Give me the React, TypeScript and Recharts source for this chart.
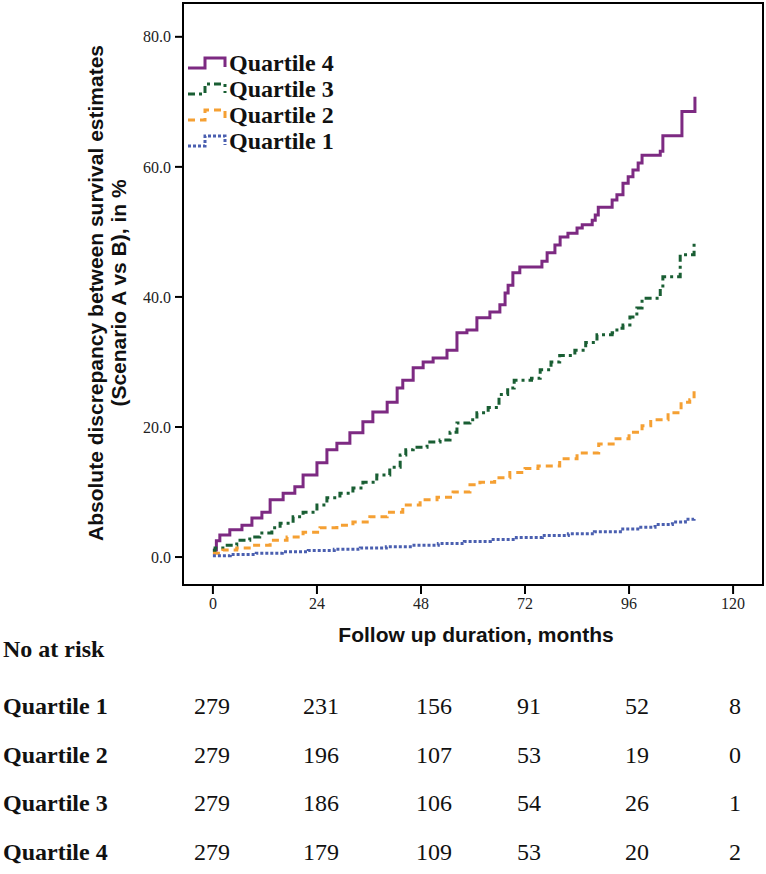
import { LineChart, Line, XAxis, YAxis, ReferenceArea } from "recharts";

// months where each step starts, and the level (%) from that month on
const q4Months = [0, 0.8, 1.6, 3.9, 6.7, 9, 11.3, 13.2, 16.2, 18.9, 20.8, 24, 26.3, 28.6, 31.6, 34.6, 36.9, 40.2, 42.5, 43.8, 46.2, 48.5, 50.8, 54, 56.3, 58.6, 60.9, 63.9, 66.2, 67.4, 68.1, 69.2, 70.8, 75.9, 77.1, 78.9, 80.1, 81.9, 84, 85.2, 87.5, 88.2, 88.9, 92.1, 93.2, 94.6, 95.8, 96.9, 98.1, 99, 103.2, 103.8, 108.2, 111.2];
const q4Values = [1.1, 2.5, 3.4, 4.2, 4.9, 6.0, 6.9, 8.8, 9.8, 10.8, 12.6, 14.5, 16.5, 17.5, 19.1, 20.8, 22.3, 23.8, 26.0, 27.2, 29.1, 30.0, 30.6, 31.8, 34.5, 34.9, 36.8, 37.7, 38.8, 40.6, 41.8, 43.7, 44.6, 45.5, 46.8, 48.0, 49.2, 49.8, 50.6, 51.1, 51.8, 52.6, 53.8, 54.9, 55.7, 57.5, 58.5, 59.5, 60.6, 61.8, 62.4, 64.8, 68.5, 70.8];

const q3Months = [0, 0.5, 2.3, 5.5, 8.5, 10.8, 13.6, 15.5, 18.5, 20.8, 24, 26.3, 29.3, 32.3, 34.6, 37.8, 40.8, 43.2, 44.5, 46.2, 49.4, 52.4, 54.7, 56.3, 59.3, 60.9, 63.5, 66, 68, 69.5, 73.5, 75.5, 78, 80, 83.5, 86, 88.6, 92.1, 93.2, 94.6, 96.2, 97.8, 99, 103.2, 103.8, 107.8, 111];
const q3Values = [1.0, 1.4, 1.8, 2.6, 3.1, 3.7, 4.5, 5.2, 6.2, 6.9, 8.0, 9.1, 9.8, 10.6, 11.5, 12.6, 13.8, 15.7, 16.5, 16.9, 17.7, 18.0, 19.2, 20.6, 21.1, 22.2, 23.0, 25.0, 26.0, 27.2, 27.5, 28.8, 30.0, 31.0, 31.8, 33.0, 34.2, 34.5, 35.2, 35.7, 36.9, 38.3, 39.8, 41.4, 43.1, 46.5, 48.5];

const q2Months = [0, 2.3, 5.5, 9.2, 13.2, 17.1, 20.8, 24.7, 28.6, 32.3, 36.2, 40.2, 43.8, 47.8, 51.7, 55.4, 59.3, 61.6, 65, 68.5, 72, 75, 80, 84, 89, 93, 96, 99, 101, 105, 108, 110, 111];
const q2Values = [0.6, 1.1, 1.4, 1.8, 2.6, 3.1, 3.8, 4.5, 4.9, 5.4, 6.2, 6.9, 8.0, 8.8, 9.2, 10.0, 11.1, 11.5, 12.2, 13.0, 13.6, 14.0, 15.1, 16.0, 17.4, 18.2, 19.2, 20.2, 21.1, 22.2, 23.8, 24.2, 26.0];

const q1Months = [0, 4, 10, 16, 22, 28, 34, 40, 46, 52, 58, 64, 70, 76, 82, 88, 94, 98, 102, 106, 109, 111];
const q1Values = [0.2, 0.4, 0.6, 0.8, 1.0, 1.2, 1.4, 1.6, 1.8, 2.1, 2.4, 2.7, 3.0, 3.3, 3.6, 3.9, 4.3, 4.6, 5.0, 5.4, 5.8, 6.0];

const xTicks = [0, 24, 48, 72, 96, 120];
const yTicks = [0, 20, 40, 60, 80];

const riskRowNames = ["Quartile 1", "Quartile 2", "Quartile 3", "Quartile 4"];
const riskQ1 = [279, 231, 156, 91, 52, 8];
const riskQ2 = [279, 196, 107, 53, 19, 0];
const riskQ3 = [279, 186, 106, 54, 26, 1];
const riskQ4 = [279, 179, 109, 53, 20, 2];

const toSeries = (ms: number[], vs: number[]) => ms.map((m, i) => ({ m, v: vs[i] }));

const SERIF = "'Liberation Serif', 'Times New Roman', serif";
const SANS = "'Liberation Sans', Arial, sans-serif";

const series = [
  { name: "Quartile 4", data: toSeries(q4Months, q4Values), color: "#7d2a82", dash: undefined },
  { name: "Quartile 3", data: toSeries(q3Months, q3Values), color: "#195e33", dash: "7 4 3 4" },
  { name: "Quartile 2", data: toSeries(q2Months, q2Values), color: "#f5a033", dash: "7 5" },
  { name: "Quartile 1", data: toSeries(q1Months, q1Values), color: "#4a5fb0", dash: "3 2" },
];

const colX = [212, 321, 434, 529, 637, 735];
const rowY = [706, 755, 803, 852];

function LegendBox() {
  return (
    <div style={{ position: "absolute", left: 186, top: 50 }}>
      {series.map((s) => (
        <div key={s.name} style={{ display: "flex", alignItems: "center", height: 26 }}>
          <svg width={42} height={16}>
            <path
              d="M2,13 H19 V3 H39 V12"
              fill="none"
              stroke={s.color}
              strokeWidth={3}
              strokeDasharray={s.dash}
            />
          </svg>
          <span style={{ fontFamily: SERIF, fontWeight: "bold", fontSize: 24, color: "#111", marginLeft: 1 }}>
            {s.name}
          </span>
        </div>
      ))}
    </div>
  );
}

export default function App() {
  const riskRows = [riskQ1, riskQ2, riskQ3, riskQ4];
  return (
    <div style={{ position: "absolute", left: 0, top: 0, width: 766, height: 874, background: "#fff" }}>
      <LineChart width={766} height={874} margin={{ top: 3, right: 3, left: 0, bottom: 259 }}>
        <XAxis
          dataKey="m"
          type="number"
          domain={[-6.9, 126.9]}
          ticks={xTicks}
          allowDataOverflow
          axisLine={false}
          tickLine={{ stroke: "#000", strokeWidth: 2 }}
          tickSize={9}
          tickMargin={4}
          height={30}
          tick={{ fontFamily: SERIF, fontSize: 16, fill: "#222" }}
        />
        <YAxis
          type="number"
          domain={[-4.3, 85.2]}
          ticks={yTicks}
          allowDataOverflow
          width={183}
          axisLine={false}
          tickLine={{ stroke: "#000", strokeWidth: 2 }}
          tickSize={8}
          tickMargin={4}
          tickFormatter={(v: number) => v.toFixed(1)}
          tick={{ fontFamily: SERIF, fontSize: 16, fill: "#222" }}
          label={{
            content: () => (
              <g transform="translate(0,293) rotate(-90)">
                <text x={0} y={103} textAnchor="middle" fontFamily={SANS} fontWeight="bold" fontSize={21} fill="#111">
                  Absolute discrepancy between survival estimates
                </text>
                <text x={0} y={126} textAnchor="middle" fontFamily={SANS} fontWeight="bold" fontSize={21} fill="#111">
                  (Scenario A vs B), in %
                </text>
              </g>
            ),
          }}
        />
        <ReferenceArea x1={-6.9} x2={126.9} y1={-4.3} y2={85.2} fill="none" stroke="#000" strokeWidth={2} />
        {series.map((s) => (
          <Line
            key={s.name}
            name={s.name}
            data={s.data}
            dataKey="v"
            type="stepAfter"
            stroke={s.color}
            strokeWidth={3}
            strokeDasharray={s.dash}
            dot={false}
            isAnimationActive={false}
          />
        ))}
      </LineChart>
      <LegendBox />
      <div
        style={{
          position: "absolute",
          left: 183,
          width: 586,
          top: 623,
          textAlign: "center",
          fontFamily: SANS,
          fontWeight: "bold",
          fontSize: 21,
          lineHeight: "24px",
          color: "#111",
        }}
      >
        Follow up duration, months
      </div>
      <div
        style={{
          position: "absolute",
          left: 3,
          top: 635,
          fontFamily: SERIF,
          fontWeight: "bold",
          fontSize: 24,
          lineHeight: "28px",
          color: "#111",
        }}
      >
        No at risk
      </div>
      {riskRows.map((row, r) => (
        <div key={r}>
          <div
            style={{
              position: "absolute",
              left: 3,
              top: rowY[r] - 14,
              fontFamily: SERIF,
              fontWeight: "bold",
              fontSize: 24,
              color: "#111",
              lineHeight: "28px",
            }}
          >
            {riskRowNames[r]}
          </div>
          {row.map((n, c) => (
            <div
              key={c}
              style={{
                position: "absolute",
                left: colX[c] - 30,
                width: 60,
                textAlign: "center",
                top: rowY[r] - 14,
                fontFamily: SERIF,
                fontSize: 24,
                color: "#111",
                lineHeight: "28px",
              }}
            >
              {n}
            </div>
          ))}
        </div>
      ))}
    </div>
  );
}
